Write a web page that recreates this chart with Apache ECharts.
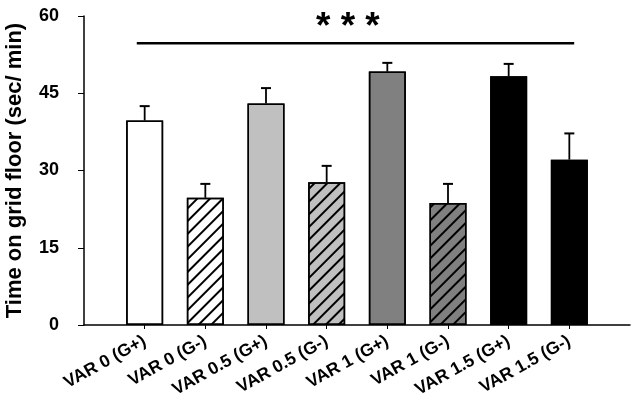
<!DOCTYPE html>
<html><head><meta charset="utf-8">
<script src="https://cdn.jsdelivr.net/npm/echarts@6/dist/echarts.min.js"></script>
<style>html,body{margin:0;padding:0;background:#fff}#c{width:641px;height:412px}</style>
</head><body><div id="c"></div>
<script>
var categories = ['VAR 0 (G+)','VAR 0 (G-)','VAR 0.5 (G+)','VAR 0.5 (G-)','VAR 1 (G+)','VAR 1 (G-)','VAR 1.5 (G+)','VAR 1.5 (G-)'];
var means = [39.7, 24.7, 43.0, 27.7, 49.2, 23.7, 48.3, 32.1];
var errors = [2.8, 2.7, 3.0, 3.2, 1.7, 3.7, 2.4, 5.1];
var fills = ['#ffffff','#ffffff','#c0c0c0','#c0c0c0','#808080','#808080','#000000','#000000'];
var hatched = [false,true,false,true,false,true,false,true];
var yTicks = [0,15,30,45,60];
var sigLine = [[0.87,54.7],[8.08,54.7]];
var sigText = '* * *';

var hatch = {symbol:'rect', symbolSize:1, color:'#000', backgroundColor:null, dashArrayX:[1,0], dashArrayY:[2,6.6], rotation:-Math.PI/4};
var barData = means.map(function(v,i){
  return {value:[i+1,v], itemStyle:{color:fills[i], borderColor:'#000', borderWidth:1.5, decal: hatched[i]?hatch:{symbol:'none'}}};
});
var errData = means.map(function(v,i){return [i+1, v, v+errors[i]];});
var chart = echarts.init(document.getElementById('c'));
chart.setOption({
  animation:false,
  aria:{enabled:true, decal:{show:true}},
  grid:{left:84, right:11, top:16, bottom:87, containLabel:false, outerBoundsMode:'none'},
  xAxis:{type:'value', min:0, max:9, interval:1,
    axisLine:{lineStyle:{color:'#000', width:1.5}},
    splitLine:{show:false},
    axisTick:{customValues:[1,2,3,4,5,6,7,8], length:4, lineStyle:{color:'#000'}},
    axisLabel:{customValues:[1,2,3,4,5,6,7,8], rotate:29, margin:15, color:'#000', fontWeight:'bold', fontSize:17.5, fontFamily:'Liberation Sans',
      formatter:function(v){return categories[Math.round(v)-1]||'';}}
  },
  yAxis:{type:'value', min:0, max:60, interval:15,
    name:'Time on grid floor (sec/ min)', nameLocation:'middle', nameGap:58,
    nameTextStyle:{color:'#000', fontWeight:'bold', fontSize:22, fontFamily:'Liberation Sans'},
    axisLine:{show:true, lineStyle:{color:'#000', width:1.5}},
    axisTick:{show:true, length:6, lineStyle:{color:'#000'}},
    splitLine:{show:false},
    axisLabel:{color:'#000', fontWeight:'bold', fontSize:18, fontFamily:'Liberation Sans', margin:25,
      formatter:function(v){return yTicks.indexOf(v)>=0?String(v):'';}}
  },
  series:[
    {type:'bar', data:barData, barWidth:37, silent:true},
    {type:'custom', data:errData, silent:true, z:1,
      renderItem:function(params, api){
        var x=api.value(0), lo=api.coord([x,api.value(1)]), hi=api.coord([x,api.value(2)]);
        return {type:'group', children:[
          {type:'line', shape:{x1:lo[0],y1:lo[1],x2:hi[0],y2:hi[1]}, style:{stroke:'#000', lineWidth:1.8}},
          {type:'line', shape:{x1:hi[0]-5,y1:hi[1],x2:hi[0]+5,y2:hi[1]}, style:{stroke:'#000', lineWidth:2}}
        ]};
      }},
    {type:'line', data:sigLine, symbol:'none', silent:true, lineStyle:{color:'#000', width:2.5}}
  ],
  graphic:[{type:'text', left:316, top:9, style:{text:sigText, fill:'#000', font:'bold 37px "Liberation Sans"'}}]
});
</script></body></html>
